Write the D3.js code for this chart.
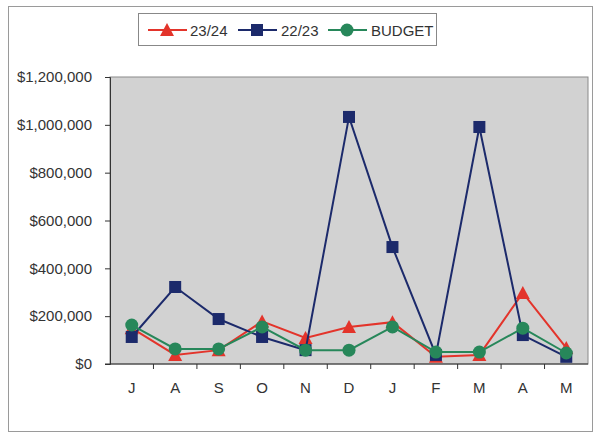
<!DOCTYPE html>
<html>
<head>
<meta charset="utf-8">
<script src="https://cdn.jsdelivr.net/npm/d3@7"></script>
<style>
  body { margin: 0; background: #fff; }
  svg { display: block; font-family: "Liberation Sans", Arial, sans-serif; }
</style>
</head>
<body>
<div id="chart"></div>
<script>
const months = ['J', 'A', 'S', 'O', 'N', 'D', 'J', 'F', 'M', 'A', 'M'];
const cur    = [150000, 38000, 58000, 178000, 109000, 155000, 175000, 30000, 38000, 297000, 67000];
const prev   = [113000, 322000, 188000, 113000, 58000, 1033000, 489000, 38000, 991000, 121000, 30000];
const budget = [163000, 63000, 63000, 155000, 58000, 58000, 155000, 50000, 50000, 150000, 46000];
const yTicks = [0, 200000, 400000, 600000, 800000, 1000000, 1200000];

const series = [
  { name: '23/24', values: cur, color: '#e3342b', shape: 'triangle' },
  { name: '22/23', values: prev, color: '#1c2a6b', shape: 'square' },
  { name: 'BUDGET', values: budget, color: '#27875a', shape: 'circle' }
];

const W = 597, H = 435;
const plot = { left: 110, right: 588, top: 77, bottom: 364 };

const svg = d3.select('#chart').append('svg')
  .attr('width', W).attr('height', H);

// outer frame
svg.append('rect')
  .attr('x', 8.5).attr('y', 6.5).attr('width', 584).attr('height', 425)
  .attr('fill', '#fff').attr('stroke', '#9a9a9a');

// plot area
svg.append('rect')
  .attr('x', plot.left).attr('y', plot.top)
  .attr('width', plot.right - plot.left).attr('height', plot.bottom - plot.top)
  .attr('fill', '#d2d2d2').attr('stroke', '#8a8a8a');

const x = d3.scaleBand().domain(d3.range(months.length))
  .range([plot.left, plot.right]).paddingInner(0).paddingOuter(0);
const y = d3.scaleLinear().domain([0, 1200000]).range([plot.bottom, plot.top]);
const cx = i => x(i) + x.bandwidth() / 2;

// y axis
const yAxis = svg.append('g')
  .attr('transform', `translate(${plot.left},0)`)
  .call(d3.axisLeft(y).tickValues(yTicks).tickSize(5).tickPadding(13)
    .tickFormat(d => '$' + d3.format(',')(d)));
yAxis.select('.domain').attr('stroke', '#333');
yAxis.selectAll('.tick line').attr('stroke', '#333');
yAxis.selectAll('text').attr('font-size', 15).attr('fill', '#333')
  .attr('font-family', '"Liberation Sans", Arial, sans-serif');

// x axis: ticks between categories
const xAxis = svg.append('g').attr('transform', `translate(0,${plot.bottom})`);
xAxis.append('line')
  .attr('x1', plot.left - 5).attr('x2', plot.right)
  .attr('stroke', '#333');
xAxis.selectAll('line.tk').data(d3.range(1, months.length)).join('line')
  .attr('class', 'tk')
  .attr('x1', i => x(i)).attr('x2', i => x(i))
  .attr('y1', 0).attr('y2', 5).attr('stroke', '#333');
xAxis.selectAll('text').data(months).join('text')
  .attr('x', (d, i) => cx(i)).attr('y', 29)
  .attr('text-anchor', 'middle')
  .attr('font-size', 15).attr('fill', '#333')
  .text(d => d);

const line = d3.line().x((d, i) => cx(i)).y(d => y(d));

function drawMarker(g, shape, color, px, py) {
  if (shape === 'square') {
    g.append('rect').attr('x', px - 6).attr('y', py - 6)
      .attr('width', 12).attr('height', 12).attr('fill', color);
  } else if (shape === 'circle') {
    g.append('circle').attr('cx', px).attr('cy', py).attr('r', 6.5).attr('fill', color);
  } else {
    g.append('path')
      .attr('d', `M${px},${py - 7}L${px + 7},${py + 6}L${px - 7},${py + 6}Z`)
      .attr('fill', color);
  }
}

series.forEach(s => {
  const g = svg.append('g');
  g.append('path').datum(s.values)
    .attr('d', line).attr('fill', 'none')
    .attr('stroke', s.color).attr('stroke-width', 2);
  s.values.forEach((v, i) => drawMarker(g, s.shape, s.color, cx(i), y(v)));
});

// legend
const lg = svg.append('g');
lg.append('rect').attr('x', 138.5).attr('y', 13.5).attr('width', 298).attr('height', 32)
  .attr('fill', '#fff').attr('stroke', '#888');
const items = [
  { s: series[0], x: 148, tx: 190 },
  { s: series[1], x: 238, tx: 281 },
  { s: series[2], x: 328, tx: 371 }
];
items.forEach(it => {
  const yy = 30;
  lg.append('line').attr('x1', it.x).attr('x2', it.x + 39)
    .attr('y1', yy).attr('y2', yy).attr('stroke', it.s.color).attr('stroke-width', 2);
  drawMarker(lg, it.s.shape, it.s.color, it.x + 19, yy);
  lg.append('text').attr('x', it.tx).attr('y', yy + 5.5)
    .attr('font-size', 15).attr('fill', '#333').text(it.s.name);
});
</script>
</body>
</html>
